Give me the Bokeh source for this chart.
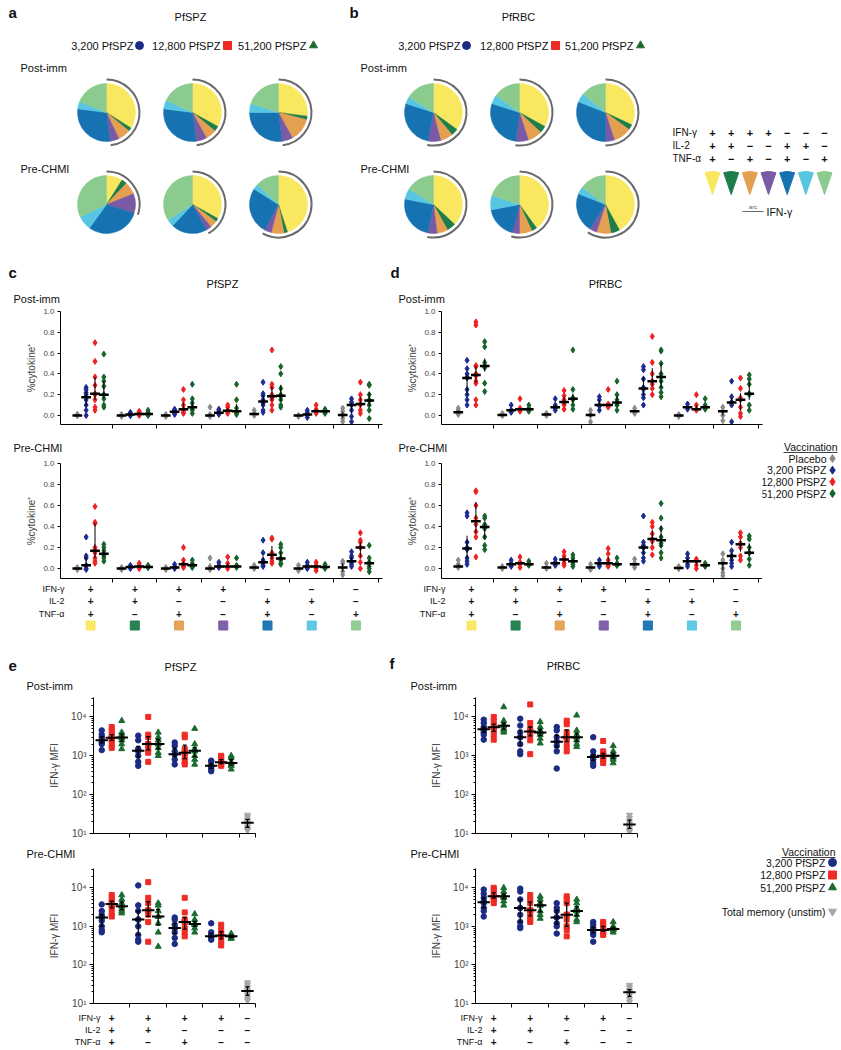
import numpy as np
from bokeh.plotting import figure
from bokeh.models import Range1d, FixedTicker, NumeralTickFormatter
from bokeh.layouts import column, row
from bokeh.embed import file_html
from bokeh.resources import INLINE
from bokeh.core.properties import value

FONT = "Liberation Sans"

# ---------------- data ----------------
combo_colors = ["#F9E85F", "#1D7D4B", "#E59F50", "#7A5AA5", "#1672B0", "#56C6E3", "#8CCB8E"]
cd_ifng = ["+", "+", "+", "+", "\u2212", "\u2212", "\u2212"]
cd_il2 = ["+", "+", "\u2212", "\u2212", "+", "+", "\u2212"]
cd_tnfa = ["+", "\u2212", "+", "\u2212", "+", "\u2212", "+"]
ef_ifng = ["+", "+", "+", "+", "\u2212"]
ef_il2 = ["+", "+", "\u2212", "\u2212", "\u2212"]
ef_tnfa = ["+", "\u2212", "+", "\u2212", "\u2212"]
row_names = ["IFN-\u03b3", "IL-2", "TNF-\u03b1"]

dose_labels = ["3,200 PfSPZ", "12,800 PfSPZ", "51,200 PfSPZ"]
dose_colors = ["#1C2B84", "#EE2B24", "#1B6B30"]
cd_labels = ["Placebo", "3,200 PfSPZ", "12,800 PfSPZ", "51,200 PfSPZ"]
cd_colors = ["#8A8A8A", "#1C2B8F", "#EE2222", "#17632A"]
unstim_label = "Total memory (unstim)"
unstim_color = "#A6A6A6"

# pie fractions (order: +++, ++-, +-+, +--, -++, -+-, --+) for 3,200 / 12,800 / 51,200
pie_pfspz_post = [[0.34, 0.02, 0.07, 0.05, 0.29, 0.04, 0.19],
                  [0.33, 0.03, 0.06, 0.06, 0.29, 0.05, 0.18],
                  [0.27, 0.02, 0.13, 0.06, 0.27, 0.05, 0.20]]
pie_pfspz_pre = [[0.09, 0.03, 0.07, 0.11, 0.30, 0.08, 0.32],
                 [0.33, 0.02, 0.04, 0.03, 0.20, 0.04, 0.34],
                 [0.45, 0.02, 0.07, 0.04, 0.26, 0.03, 0.13]]
pie_pfrbc_post = [[0.35, 0.04, 0.07, 0.07, 0.27, 0.04, 0.16],
                  [0.33, 0.04, 0.08, 0.07, 0.28, 0.05, 0.15],
                  [0.32, 0.03, 0.10, 0.05, 0.31, 0.05, 0.14]]
pie_pfrbc_pre = [[0.37, 0.05, 0.06, 0.05, 0.25, 0.06, 0.16],
                 [0.40, 0.03, 0.07, 0.04, 0.18, 0.08, 0.20],
                 [0.42, 0.05, 0.08, 0.04, 0.22, 0.04, 0.15]]

# panel c (PfSPZ) %cytokine+, per combination group
c_post_placebo = [[0.0, 0.0, 0.01, 0.0, 0.01, 0.0], [0.0, 0.0, -0.01, 0.01], [0.0, 0.0, -0.01, 0.01],
                  [0.08, 0.01, 0.0, -0.01, 0.0], [0.05, 0.02, 0.01, 0.0], [0.0, 0.0, -0.01, 0.0],
                  [0.07, 0.04, 0.01, 0.0, -0.03, -0.06]]
c_post_3200 = [[0.27, 0.25, 0.22, 0.2, 0.15, 0.1, 0.05, 0.0], [0.03, 0.02, 0.01, 0.0, 0.0],
               [0.06, 0.05, 0.04, 0.03, 0.02, 0.01], [0.06, 0.05, 0.03, 0.02, 0.02, 0.01],
               [0.32, 0.21, 0.19, 0.15, 0.12, 0.1, 0.05, 0.03], [0.05, 0.03, 0.01, 0.01, 0.0, -0.02],
               [0.16, 0.13, 0.11, 0.1, 0.05, -0.01, -0.06]]
c_post_12800 = [[0.70, 0.52, 0.37, 0.29, 0.21, 0.2, 0.15, 0.08, 0.05], [0.04, 0.03, 0.02, 0.01, 0.01, 0.0],
                [0.25, 0.15, 0.1, 0.06, 0.05, 0.03, 0.02], [0.1, 0.08, 0.05, 0.04, 0.03, 0.02],
                [0.63, 0.3, 0.27, 0.2, 0.17, 0.15, 0.1, 0.05], [0.1, 0.06, 0.04, 0.04, 0.02],
                [0.32, 0.2, 0.15, 0.11, 0.1, 0.05, 0.02]]
c_post_51200 = [[0.59, 0.37, 0.33, 0.28, 0.2, 0.2, 0.16, 0.1, 0.08], [0.05, 0.03, 0.02, 0.01, 0.01, 0.0],
                [0.3, 0.16, 0.12, 0.08, 0.06, 0.05, 0.02], [0.3, 0.15, 0.07, 0.04, 0.03, 0.02, 0.01],
                [0.47, 0.4, 0.26, 0.2, 0.18, 0.15, 0.1, 0.08], [0.06, 0.05, 0.04, 0.03, 0.02],
                [0.3, 0.29, 0.2, 0.15, 0.14, 0.1, 0.05, -0.03]]
c_pre_placebo = [[0.0, 0.0, 0.01, 0.0, -0.01], [0.0, 0.0, 0.01, -0.01], [0.0, 0.0, 0.01, -0.01],
                 [0.1, 0.02, 0.0, -0.01, 0.0], [0.03, 0.01, 0.0, 0.01], [0.03, 0.0, -0.02, 0.0],
                 [0.07, 0.05, 0.01, -0.03, -0.06]]
c_pre_3200 = [[0.3, 0.12, 0.1, 0.03, 0.02, 0.0, -0.01], [0.03, 0.02, 0.01, 0.0], [0.04, 0.02, 0.01, 0.01, 0.0],
              [0.06, 0.03, 0.02, 0.02, 0.01], [0.27, 0.15, 0.08, 0.06, 0.05, 0.03, 0.02],
              [0.06, 0.03, 0.02, 0.01, 0.0], [0.16, 0.12, 0.1, 0.07, 0.06, 0.04, 0.02]]
c_pre_12800 = [[0.59, 0.44, 0.43, 0.2, 0.17, 0.15, 0.1, 0.07, 0.05], [0.05, 0.03, 0.02, 0.01, 0.0],
               [0.2, 0.08, 0.05, 0.03, 0.02, 0.01], [0.11, 0.05, 0.02, 0.02, 0.0],
               [0.29, 0.28, 0.15, 0.13, 0.1, 0.07, 0.05], [0.06, 0.03, 0.02, 0.0, -0.02],
               [0.34, 0.27, 0.25, 0.2, 0.2, 0.12, 0.06, 0.0]]
c_pre_51200 = [[0.23, 0.2, 0.17, 0.14, 0.12, 0.1, 0.07], [0.03, 0.02, 0.01, 0.01], [0.08, 0.05, 0.03, 0.02, 0.01],
               [0.1, 0.03, 0.02, 0.02, 0.01], [0.23, 0.2, 0.15, 0.1, 0.09, 0.08, 0.05, 0.04],
               [0.04, 0.02, 0.01, 0.0], [0.22, 0.1, 0.06, 0.05, 0.02, 0.0, -0.03]]

# panel d (PfRBC)
d_post_placebo = [[0.07, 0.05, 0.03, 0.02, 0.01], [0.02, 0.01, 0.0, 0.0], [0.02, 0.01, 0.01, 0.0],
                  [0.05, 0.01, 0.0, -0.06], [0.07, 0.04, 0.04, 0.02], [0.01, 0.0, 0.0, -0.01],
                  [0.08, 0.04, 0.04, 0.0, -0.05]]
d_post_3200 = [[0.53, 0.45, 0.4, 0.37, 0.36, 0.25, 0.2, 0.15, 0.1], [0.1, 0.05, 0.05, 0.04, 0.03],
               [0.16, 0.1, 0.08, 0.07, 0.05], [0.18, 0.15, 0.1, 0.09, 0.05],
               [0.47, 0.44, 0.35, 0.27, 0.25, 0.2, 0.17, 0.1], [0.11, 0.08, 0.08, 0.06],
               [0.33, 0.18, 0.13, 0.12, 0.1, -0.06]]
d_post_12800 = [[0.9, 0.87, 0.48, 0.47, 0.4, 0.38, 0.33, 0.31, 0.15, 0.1], [0.16, 0.07, 0.06, 0.05, 0.04],
                [0.24, 0.19, 0.15, 0.11, 0.1, 0.06], [0.25, 0.11, 0.1, 0.09, 0.08],
                [0.76, 0.51, 0.4, 0.33, 0.3, 0.26, 0.2], [0.2, 0.1, 0.06, 0.06, 0.05],
                [0.36, 0.26, 0.17, 0.15, 0.08, 0.02, -0.01]]
d_post_51200 = [[0.71, 0.66, 0.51, 0.48, 0.47, 0.46, 0.31, 0.23], [0.1, 0.07, 0.06, 0.05, 0.04],
                [0.63, 0.25, 0.17, 0.16, 0.15, 0.1, 0.06], [0.33, 0.2, 0.15, 0.1, 0.1, 0.05],
                [0.63, 0.62, 0.5, 0.4, 0.37, 0.33, 0.27, 0.22, 0.18], [0.16, 0.1, 0.08, 0.07, 0.06],
                [0.39, 0.35, 0.3, 0.21, 0.2, 0.1, 0.05]]
d_pre_placebo = [[0.08, 0.04, 0.02, 0.02, 0.01], [0.02, 0.01, 0.01, 0.0], [0.05, 0.01, 0.01, 0.0],
                 [0.04, 0.01, 0.01, -0.01], [0.09, 0.05, 0.04, 0.03, 0.01], [0.02, 0.01, 0.0, 0.0],
                 [0.14, 0.08, 0.05, 0.05, 0.0, -0.04, -0.07]]
d_pre_3200 = [[0.53, 0.5, 0.25, 0.2, 0.18, 0.1, 0.07, 0.04], [0.08, 0.05, 0.04, 0.03, 0.02],
              [0.09, 0.06, 0.05, 0.04, 0.03], [0.08, 0.05, 0.05, 0.03, 0.02],
              [0.5, 0.25, 0.22, 0.2, 0.2, 0.15, 0.1, 0.07], [0.14, 0.1, 0.07, 0.07, 0.04, 0.02],
              [0.25, 0.17, 0.12, 0.12, 0.08, 0.05, 0.02]]
d_pre_12800 = [[0.74, 0.73, 0.6, 0.48, 0.42, 0.35, 0.3, 0.11], [0.11, 0.06, 0.05, 0.04, 0.01],
               [0.16, 0.12, 0.09, 0.08, 0.05, 0.03], [0.19, 0.14, 0.08, 0.05, 0.05, 0.03, 0.02],
               [0.44, 0.4, 0.33, 0.28, 0.26, 0.2, 0.13], [0.09, 0.07, 0.07, 0.03, 0.0],
               [0.34, 0.3, 0.24, 0.23, 0.2, 0.12, 0.08]]
d_pre_51200 = [[0.5, 0.48, 0.42, 0.41, 0.38, 0.3, 0.22, 0.18], [0.07, 0.05, 0.04, 0.04, 0.03],
               [0.13, 0.1, 0.07, 0.07, 0.04, 0.02], [0.1, 0.05, 0.04, 0.03, 0.03],
               [0.62, 0.48, 0.38, 0.3, 0.24, 0.22, 0.15, 0.1], [0.05, 0.03, 0.03, 0.02],
               [0.31, 0.28, 0.2, 0.15, 0.15, 0.09, 0.03]]

# panels e/f IFN-gamma MFI (groups +++, ++-, +-+, +--)
e_post_3200 = [[4500, 3500, 3000, 2500, 2500, 2200, 2000, 1400], [3300, 2500, 1500, 1400, 1300, 1000, 700, 550],
               [2200, 1800, 1300, 1100, 1100, 800, 600], [750, 700, 550, 550, 500, 450, 400]]
e_post_12800 = [[5500, 4500, 3500, 3000, 2900, 2800, 2500, 2000, 1600], [10000, 3500, 3000, 2000, 2000, 1500, 1200, 700],
                [3500, 3000, 1500, 1200, 1200, 900, 700, 600], [1000, 900, 700, 680, 650, 600, 550]]
e_post_51200 = [[8000, 4000, 3500, 3000, 2900, 2500, 2000, 1500], [4000, 3000, 2500, 2000, 2000, 1600, 1200, 1000],
                [5000, 2000, 1500, 1400, 1300, 1000, 800, 600], [1000, 900, 700, 650, 600, 550, 450]]
e_post_unstim = [30, 26, 22, 20, 18, 15, 13, 12]
e_pre_3200 = [[3700, 2500, 2000, 1700, 1700, 1400, 1000, 800, 700], [11500, 3500, 2500, 1500, 1500, 1000, 600, 450, 400],
              [1700, 1500, 1100, 900, 900, 700, 500, 350], [1200, 700, 600, 550, 550, 500, 450]]
e_pre_12800 = [[6500, 5500, 4500, 3800, 3800, 3500, 3000, 2200, 1800], [14000, 5500, 4000, 2600, 2600, 2000, 1300, 400],
               [5500, 2300, 1500, 1300, 1300, 900, 700, 550], [1100, 800, 650, 580, 550, 400, 320]]
e_pre_51200 = [[6500, 5000, 4000, 3300, 3300, 2800, 2500, 2200], [4000, 3500, 2500, 1800, 1800, 1200, 700, 300],
               [2100, 1500, 1200, 1150, 1100, 900, 700], [650, 600, 560, 550, 500, 480]]
e_pre_unstim = [35, 30, 26, 22, 20, 17, 14, 12]
f_post_3200 = [[8500, 7000, 5500, 5000, 4800, 4500, 4000, 3500, 2600], [9000, 6000, 4000, 3000, 3000, 2000, 1300, 1100],
               [5500, 4500, 3000, 2300, 2300, 1800, 1300, 470], [3000, 1300, 1000, 950, 900, 800, 650, 550]]
f_post_12800 = [[10000, 8000, 6000, 5500, 5300, 4500, 3500, 2600], [21000, 7000, 5000, 4200, 4200, 3500, 2500, 1100],
                [8000, 6500, 4000, 3000, 3000, 2500, 1800, 1300], [2400, 1300, 1100, 1000, 1000, 900, 800, 650]]
f_post_51200 = [[18000, 8000, 6500, 6000, 5800, 5000, 4500, 4000], [7500, 5500, 4500, 4000, 4000, 3500, 2800, 2100],
                [11000, 4500, 3500, 3000, 3000, 2500, 2000, 1700], [1800, 1300, 1100, 1000, 1000, 900, 800, 650]]
f_post_unstim = [30, 25, 21, 18, 16, 14, 12, 11]
f_pre_3200 = [[9000, 7000, 5500, 4500, 4200, 4000, 3000, 2500, 1800], [9500, 8000, 5000, 3000, 3000, 2000, 1300, 1000, 900],
              [4000, 3000, 2500, 1700, 1700, 1200, 1000, 650], [1300, 1100, 900, 800, 800, 700, 600, 400]]
f_pre_12800 = [[10000, 9000, 7000, 6000, 6000, 5500, 5000, 4000], [6500, 5000, 4000, 2600, 2600, 2000, 1500, 1300],
               [6000, 5000, 4000, 2000, 2000, 1500, 1000, 800, 550], [1300, 1100, 900, 800, 800, 700, 600]]
f_pre_51200 = [[10000, 8000, 6500, 6000, 6000, 5500, 4500, 3500], [6000, 5000, 4000, 3500, 3500, 2500, 2000, 1600],
               [5000, 4000, 3000, 2500, 2500, 2000, 1500, 1300], [1300, 1000, 900, 850, 850, 800, 700]]
f_pre_unstim = [30, 26, 22, 20, 19, 16, 13, 11]

# ---------------- helpers ----------------
def canvas(x0, y0, w, h):
    p = figure(frame_width=w, frame_height=h, x_range=Range1d(x0, x0 + w),
               y_range=Range1d(-(y0 + h), -y0), min_border=0,
               toolbar_location=None, output_backend="svg",
               x_axis_type=None, y_axis_type=None)
    p.outline_line_color = None
    return p


def txt(p, x, y, s, size=11, align="left", bold=False, color="#111111"):
    xs = x if isinstance(x, (list, np.ndarray)) else [x]
    ys = y if isinstance(y, (list, np.ndarray)) else [y] * len(xs)
    ss = s if isinstance(s, list) else [s] * len(xs)
    p.text(x=list(xs), y=[-v for v in ys], text=ss, text_font=value(FONT),
           text_font_size=f"{size}px", text_align=align, text_baseline="middle",
           text_color=color, text_font_style="bold" if bold else "normal")


def style_axis(ax, size="8px"):
    ax.axis_line_color = "black"
    ax.axis_line_width = 1
    ax.major_tick_line_color = "black"
    ax.major_tick_in = 0
    ax.major_tick_out = 4
    ax.minor_tick_line_color = None
    ax.major_label_text_font = FONT
    ax.major_label_text_font_size = size
    ax.axis_label_text_font = FONT
    ax.axis_label_text_font_style = "normal"
    ax.axis_label_text_font_size = "10px"


def hide_tick_labels(ax):
    ax.major_label_text_font_size = "1px"
    ax.major_label_text_color = None
    ax.major_label_standoff = 0


def draw_pies(p, fracs_list, cxs, cy):
    for fr, cx in zip(fracs_list, cxs):
        fr = np.array(fr, dtype=float)
        fr = fr / fr.sum()
        cum = np.concatenate([[0.0], np.cumsum(fr)])
        starts = np.pi / 2 - 2 * np.pi * cum[1:]
        ends = np.pi / 2 - 2 * np.pi * cum[:-1]
        p.wedge(x=[cx] * 7, y=[-cy] * 7, radius=29, radius_units="screen",
                start_angle=list(starts), end_angle=list(ends),
                fill_color=combo_colors, line_color=combo_colors, line_width=0.5)
        ifn = cum[4]
        p.arc(x=cx, y=-cy, radius=33, radius_units="screen",
              start_angle=np.pi / 2 - 2 * np.pi * ifn, end_angle=np.pi / 2,
              line_color="#6A6A6A", line_width=2)


CD_XR = (-0.68, 6.6)
CD_OFFS = [-0.3, -0.1, 0.1, 0.3]


def cd_plot(series, ybot, fw, fh, left, right, top, bottom):
    p = figure(frame_width=fw, frame_height=fh, x_range=Range1d(*CD_XR), y_range=Range1d(ybot, 1.0),
               min_border_left=left, min_border_right=right, min_border_top=top, min_border_bottom=bottom,
               toolbar_location=None, output_backend="svg")
    p.grid.visible = False
    p.outline_line_color = None
    for s, (vals, col) in enumerate(zip(series, cd_colors)):
        xs, ys = [], []
        for g, v in enumerate(vals):
            xs += [g + CD_OFFS[s]] * len(v)
            ys += list(v)
        p.scatter(xs, ys, marker="diamond", size=6, fill_color=col, line_color=col)
    for s, vals in enumerate(series):
        gx = np.arange(len(vals)) + CD_OFFS[s]
        med = [float(np.median(v)) for v in vals]
        q1 = [float(np.percentile(v, 25)) for v in vals]
        q3 = [float(np.percentile(v, 75)) for v in vals]
        p.segment(list(gx), q1, list(gx), q3, line_color="black", line_width=1)
        p.segment(list(gx - 0.11), med, list(gx + 0.11), med, line_color="black", line_width=2.5)
    style_axis(p.xaxis)
    p.xaxis.ticker = FixedTicker(ticks=[0.5 + i for i in range(7)])
    hide_tick_labels(p.xaxis)
    style_axis(p.yaxis)
    p.yaxis.major_tick_out = 3
    p.yaxis.major_label_standoff = 3
    p.yaxis.ticker = FixedTicker(ticks=[0.0, 0.2, 0.4, 0.6, 0.8, 1.0])
    p.yaxis.formatter = NumeralTickFormatter(format="0.0")
    p.yaxis.axis_label = "%cytokine\u207a"
    p.yaxis.axis_label_standoff = 3
    return p


EF_XR = (-0.5, 3.94)
EF_OFFS = [-0.274, 0.0, 0.274]
EF_MARKERS = ["circle", "square", "triangle"]
EF_SIZES = [5.5, 5, 6]
UNSTIM_X = (3.5 + EF_XR[1]) / 2


def stats_marks(p, xs, vals_list, half=0.17, cap=0.055):
    med = [float(np.median(v)) for v in vals_list]
    q1 = [float(np.percentile(v, 25)) for v in vals_list]
    q3 = [float(np.percentile(v, 75)) for v in vals_list]
    xs = np.array(xs, dtype=float)
    p.segment(list(xs), q1, list(xs), q3, line_color="black", line_width=1.3)
    p.segment(list(xs - cap), q1, list(xs + cap), q1, line_color="black", line_width=1.3)
    p.segment(list(xs - cap), q3, list(xs + cap), q3, line_color="black", line_width=1.3)
    p.segment(list(xs - half), med, list(xs + half), med, line_color="black", line_width=2)


def ef_plot(series, unstim, fh, left, right, top, bottom):
    p = figure(frame_width=162, frame_height=fh, x_range=Range1d(*EF_XR),
               y_range=Range1d(10, 10 ** 4.5), y_axis_type="log",
               min_border_left=left, min_border_right=right, min_border_top=top, min_border_bottom=bottom,
               toolbar_location=None, output_backend="svg")
    p.grid.visible = False
    p.outline_line_color = None
    for s, (vals, col) in enumerate(zip(series, dose_colors)):
        xs, ys = [], []
        for g, v in enumerate(vals):
            xs += [g + EF_OFFS[s]] * len(v)
            ys += list(v)
        p.scatter(xs, ys, marker=EF_MARKERS[s], size=EF_SIZES[s], fill_color=col, line_color=col)
    p.scatter([UNSTIM_X] * len(unstim), unstim, marker="inverted_triangle", size=6,
              fill_color=unstim_color, line_color=unstim_color)
    for s, vals in enumerate(series):
        stats_marks(p, [g + EF_OFFS[s] for g in range(len(vals))], vals)
    stats_marks(p, [UNSTIM_X], [unstim])
    style_axis(p.xaxis)
    p.xaxis.ticker = FixedTicker(ticks=[0.5, 1.5, 2.5, 3.5, EF_XR[1] - 0.01])
    hide_tick_labels(p.xaxis)
    style_axis(p.yaxis, size="10px")
    minors = [m * d for d in (10, 100, 1000) for m in range(2, 10)] + [20000, 30000]
    p.yaxis.ticker = FixedTicker(ticks=[10, 100, 1000, 10000], minor_ticks=minors)
    p.yaxis.minor_tick_line_color = "black"
    p.yaxis.minor_tick_in = 0
    p.yaxis.minor_tick_out = 2
    p.yaxis.major_label_overrides = {10: "10\u00b9", 100: "10\u00b2", 1000: "10\u00b3", 10000: "10\u2074"}
    p.yaxis.major_label_standoff = 3
    p.yaxis.axis_label = "IFN-\u03b3 MFI"
    p.yaxis.axis_label_standoff = 8
    return p


def table_fig(xr, fl, fr, x0, x1, y0, h):
    u = (xr[1] - xr[0]) / (fr - fl)
    p = figure(frame_width=x1 - x0, frame_height=h,
               x_range=Range1d(xr[0] - (fl - x0) * u, xr[1] + (x1 - fr) * u),
               y_range=Range1d(-(y0 + h), -y0), min_border=0, toolbar_location=None,
               output_backend="svg", x_axis_type=None, y_axis_type=None)
    p.outline_line_color = None
    return p, (lambda px: xr[0] + (px - fl) * u)


def fill_table(p, to_x, header_px, gx, rows, rows_y, squares_y=None):
    hx = to_x(header_px)
    for name, vals, yy in zip(row_names, rows, rows_y):
        txt(p, hx, yy, name, size=9, align="right")
        txt(p, list(gx), yy, vals, size=10, align="center", bold=True)
    if squares_y is not None:
        p.scatter(list(gx), [-squares_y] * len(gx), marker="square", size=9,
                  fill_color=combo_colors, line_color=combo_colors, fill_alpha=0.95)


# ---------------- top section (pies + headers) ----------------
top = canvas(0, 0, 841, 304)
txt(top, 8, 12, "a", size=15, bold=True)
txt(top, 190, 16, "PfSPZ", size=11, align="center")
txt(top, 349, 12, "b", size=15, bold=True)
txt(top, 518, 16, "PfRBC", size=11, align="center")
for text_right, mx in (([133, 220, 306], [139, 227, 313]), ([460, 548, 633], [466, 555, 640])):
    for k in range(3):
        txt(top, text_right[k], 45, dose_labels[k], size=11, align="right")
        top.scatter([mx[k]], [-45], marker=EF_MARKERS[k], size=8,
                    fill_color=dose_colors[k], line_color=dose_colors[k])
for lx in (20, 360):
    txt(top, lx, 67, "Post-imm", size=11)
    txt(top, lx, 168, "Pre-CHMI", size=11)
draw_pies(top, pie_pfspz_post, [106, 192, 278], 112)
draw_pies(top, pie_pfspz_pre, [106, 192, 278], 204)
draw_pies(top, pie_pfrbc_post, [433, 519, 605], 112)
draw_pies(top, pie_pfrbc_pre, [433, 519, 605], 204)

# cytokine combination legend
col_x = [712 + 18.67 * k for k in range(7)]
for name, vals, yy in zip(row_names, [cd_ifng, cd_il2, cd_tnfa], [132, 145, 158]):
    txt(top, 672, yy, name, size=10)
    txt(top, col_x, yy, vals, size=11, align="center", bold=True)
top.wedge(x=col_x, y=[-194] * 7, radius=23, radius_units="screen",
          start_angle=np.pi / 2 - 0.33, end_angle=np.pi / 2 + 0.33,
          fill_color=combo_colors, line_color=combo_colors)
top.segment(x0=[742], y0=[-211], x1=[763], y1=[-211], line_color="#6A6A6A", line_width=1.2)
txt(top, 752.5, 206, "arc", size=6, align="center", color="#555555")
txt(top, 766, 211, "IFN-\u03b3", size=10.5)

# c / d headers
txt(top, 8, 272, "c", size=15, bold=True)
txt(top, 222, 283, "PfSPZ", size=11, align="center")
txt(top, 13, 298, "Post-imm", size=11)
txt(top, 390, 272, "d", size=15, bold=True)
txt(top, 605, 283, "PfRBC", size=11, align="center")
txt(top, 398, 298, "Post-imm", size=11)

# ---------------- c / d plots ----------------
c_post = cd_plot([c_post_placebo, c_post_3200, c_post_12800, c_post_51200], -0.087, 322, 113, 60, 18, 7, 8)
d_post = cd_plot([d_post_placebo, d_post_3200, d_post_12800, d_post_51200], -0.087, 321, 113, 41, 79, 7, 8)

mid = canvas(0, 432, 762, 22)
txt(mid, 13, 447, "Pre-CHMI", size=11)
txt(mid, 398, 447, "Pre-CHMI", size=11)

c_pre = cd_plot([c_pre_placebo, c_pre_3200, c_pre_12800, c_pre_51200], -0.095, 322, 115, 60, 18, 9, 6)
d_pre = cd_plot([d_pre_placebo, d_pre_3200, d_pre_12800, d_pre_51200], -0.095, 321, 115, 41, 0, 9, 6)

leg_d = canvas(762, 432, 79, 152)
txt(leg_d, 837, 446, "Vaccination", size=10.5, align="right")
leg_d.segment(x0=[783], y0=[-452], x1=[837], y1=[-452], line_color="#111111", line_width=0.8)
for k, yy in enumerate([458, 469.7, 481.3, 493]):
    txt(leg_d, 826, yy, cd_labels[k], size=10.5, align="right")
    leg_d.scatter([832], [-yy], marker="diamond", size=8, fill_color=cd_colors[k], line_color=cd_colors[k])

tab_c, tc_x = table_fig(CD_XR, 60, 382, 0, 400, 584, 48)
fill_table(tab_c, tc_x, 64, np.arange(7), [cd_ifng, cd_il2, cd_tnfa], [588, 600, 613], 625)
tab_d, td_x = table_fig(CD_XR, 441, 762, 400, 841, 584, 48)
fill_table(tab_d, td_x, 445, np.arange(7), [cd_ifng, cd_il2, cd_tnfa], [588, 600, 613], 625)

# ---------------- e / f ----------------
ef_head = canvas(0, 632, 841, 61)
txt(ef_head, 8, 665, "e", size=15, bold=True)
txt(ef_head, 180, 666, "PfSPZ", size=11, align="center")
txt(ef_head, 389, 663, "f", size=15, bold=True)
txt(ef_head, 563, 665, "PfRBC", size=11, align="center")
txt(ef_head, 26, 685, "Post-imm", size=11)
txt(ef_head, 410, 685, "Post-imm", size=11)

e_post = ef_plot([e_post_3200, e_post_12800, e_post_51200], e_post_unstim, 136, 93, 145, 4, 7)
f_post = ef_plot([f_post_3200, f_post_12800, f_post_51200], f_post_unstim, 136, 75, 204, 4, 7)

mid2 = canvas(0, 840, 700, 22)
txt(mid2, 26, 853, "Pre-CHMI", size=11)
txt(mid2, 410, 853, "Pre-CHMI", size=11)

e_pre = ef_plot([e_pre_3200, e_pre_12800, e_pre_51200], e_pre_unstim, 135, 93, 145, 6, 5)
f_pre = ef_plot([f_pre_3200, f_pre_12800, f_pre_51200], f_pre_unstim, 135, 75, 63, 6, 5)

leg_f = canvas(700, 840, 141, 168)
txt(leg_f, 835, 851, "Vaccination", size=10.5, align="right")
leg_f.segment(x0=[781], y0=[-857], x1=[835], y1=[-857], line_color="#111111", line_width=0.8)
for k, yy in enumerate([862, 874.5, 887]):
    txt(leg_f, 825, yy, dose_labels[k], size=10.5, align="right")
    leg_f.scatter([832], [-yy], marker=EF_MARKERS[k], size=8, fill_color=dose_colors[k], line_color=dose_colors[k])
txt(leg_f, 825, 911, unstim_label, size=10.5, align="right")
leg_f.scatter([832], [-911], marker="inverted_triangle", size=8, fill_color=unstim_color, line_color=unstim_color)

ef_gx = [0, 1, 2, 3, UNSTIM_X]
tab_e, te_x = table_fig(EF_XR, 93, 255, 0, 400, 1008, 40)
fill_table(tab_e, te_x, 100, ef_gx, [ef_ifng, ef_il2, ef_tnfa], [1017, 1029, 1041])
tab_f, tf_x = table_fig(EF_XR, 475, 637, 400, 841, 1008, 40)
fill_table(tab_f, tf_x, 482, ef_gx, [ef_ifng, ef_il2, ef_tnfa], [1017, 1029, 1041])

layout = column(
    top,
    row(c_post, d_post),
    row(column(mid, row(c_pre, d_pre)), leg_d),
    row(tab_c, tab_d),
    ef_head,
    row(e_post, f_post),
    row(column(mid2, row(e_pre, f_pre)), leg_f),
    row(tab_e, tab_f),
)

open("out.html", "w").write(file_html(layout, INLINE))
